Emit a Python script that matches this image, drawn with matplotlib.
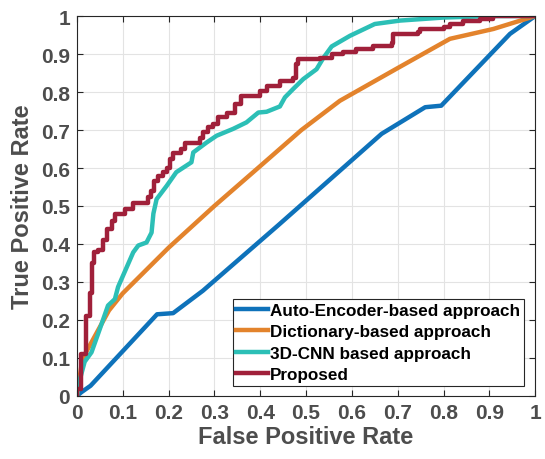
import numpy as np
import matplotlib
matplotlib.use("Agg")
import matplotlib.pyplot as plt

# ROC curves
ae_fpr = [0, 0.01, 0.03, 0.175, 0.21, 0.275, 0.44, 0.665, 0.76, 0.795, 0.945, 1.0]
ae_tpr = [0, 0.01, 0.027, 0.215, 0.218, 0.277, 0.45, 0.69, 0.76, 0.764, 0.953, 1.0]

dict_fpr = [0, 0.01, 0.02, 0.07, 0.1, 0.2, 0.3, 0.4, 0.49, 0.574, 0.7, 0.814, 0.909, 1.0]
dict_tpr = [0, 0.08, 0.115, 0.225, 0.27, 0.39, 0.5, 0.605, 0.70, 0.777, 0.863, 0.94, 0.966, 1.0]

cnn_fpr = [0, 0.007, 0.017, 0.032, 0.05, 0.068, 0.083, 0.09, 0.123, 0.134, 0.152, 0.163,
           0.167, 0.174, 0.196, 0.217, 0.25, 0.254, 0.283, 0.305, 0.341, 0.37, 0.396,
           0.414, 0.443, 0.454, 0.472, 0.494, 0.523, 0.538, 0.556, 0.596, 0.65, 0.705,
           0.8, 0.91, 1.0]
cnn_tpr = [0, 0.045, 0.09, 0.115, 0.176, 0.238, 0.255, 0.287, 0.378, 0.396, 0.404, 0.43,
           0.48, 0.518, 0.553, 0.589, 0.615, 0.641, 0.667, 0.685, 0.703, 0.72, 0.746,
           0.748, 0.762, 0.786, 0.808, 0.834, 0.86, 0.89, 0.92, 0.948, 0.979, 0.988,
           0.996, 1.0, 1.0]

# proposed: step curve (fpr where the jump happens, new tpr level)
prop_fpr = [0, 0, 0.01, 0.02, 0.028, 0.032, 0.038, 0.047, 0.058, 0.065, 0.076, 0.083,
            0.105, 0.123, 0.156, 0.162, 0.168, 0.176, 0.188, 0.196, 0.203, 0.21, 0.228,
            0.236, 0.269, 0.276, 0.287, 0.298, 0.308, 0.327, 0.345, 0.358, 0.4, 0.414,
            0.443, 0.472, 0.478, 0.483, 0.53, 0.556, 0.581, 0.61, 0.647, 0.687, 0.69,
            0.745, 0.749, 0.8, 0.814, 0.843, 0.88, 0.909, 1.0]
prop_tpr = [0, 0.018, 0.11, 0.21, 0.27, 0.35, 0.378, 0.385, 0.41, 0.44, 0.46, 0.48,
            0.492, 0.508, 0.525, 0.54, 0.567, 0.58, 0.59, 0.6, 0.624, 0.64, 0.65,
            0.667, 0.68, 0.694, 0.707, 0.716, 0.733, 0.746, 0.768, 0.79, 0.803, 0.817,
            0.83, 0.838, 0.874, 0.887, 0.89, 0.9, 0.904, 0.913, 0.922, 0.93, 0.953,
            0.957, 0.966, 0.97, 0.98, 0.988, 0.993, 1.0, 1.0]

labels = ["Auto-Encoder-based approach", "Dictionary-based approach",
          "3D-CNN based approach", "Proposed"]
colors = ["#0E72BA", "#E3832C", "#2CBFB6", "#A0203A"]

tick_vals = np.round(np.arange(0, 1.01, 0.1), 1)
tick_labels = ["0"] + [f"{v:.1f}" for v in tick_vals[1:-1]] + ["1"]

plt.rcParams["font.family"] = ["Liberation Sans", "DejaVu Sans"]

fig = plt.figure(figsize=(5.45, 4.6), dpi=100)
ax = fig.add_axes([0.141, 0.137, 0.841, 0.826])

ax.plot(ae_fpr, ae_tpr, color=colors[0], lw=3.2, label=labels[0])
ax.plot(dict_fpr, dict_tpr, color=colors[1], lw=3.2, label=labels[1])
ax.plot(cnn_fpr, cnn_tpr, color=colors[2], lw=3.2, label=labels[2])
ax.plot(prop_fpr, prop_tpr, color=colors[3], lw=3.2, label=labels[3],
        drawstyle="steps-post")

ax.set_xlim(0, 1)
ax.set_ylim(0, 1)
ax.set_xticks(tick_vals)
ax.set_yticks(tick_vals)
ax.set_xticklabels(tick_labels)
ax.set_yticklabels(tick_labels)
ax.tick_params(direction="in", top=True, right=True, length=4, width=0.8,
               colors="#262626", labelcolor="#4D4D4D", labelsize=15, pad=5)
for lab in ax.get_xticklabels() + ax.get_yticklabels():
    lab.set_fontweight("bold")
for sp in ax.spines.values():
    sp.set_color("#262626")
    sp.set_linewidth(0.8)
ax.grid(True, color="#E3E3E3", lw=0.8)
ax.set_axisbelow(True)

ax.set_xlabel("False Positive Rate", fontsize=17, fontweight="bold",
              color="#4D4D4D", labelpad=2)
ax.set_ylabel("True Positive Rate", fontsize=17, fontweight="bold",
              color="#4D4D4D", labelpad=5)

leg = ax.legend(loc="lower right", bbox_to_anchor=(0.975, 0.027),
                prop={"weight": "bold", "size": 12.3},
                handlelength=1.9, handletextpad=0.1, labelspacing=0.38,
                borderpad=0.2, borderaxespad=0, fancybox=False, framealpha=1)
leg.get_frame().set_edgecolor("#262626")
leg.get_frame().set_linewidth(0.8)

fig.savefig("out.png", dpi=100)
